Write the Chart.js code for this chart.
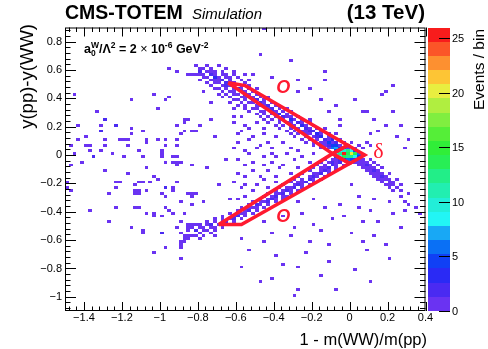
<!DOCTYPE html>
<html>
<head>
<meta charset="utf-8">
<script src="https://cdn.jsdelivr.net/npm/chart.js@4.4.0/dist/chart.umd.min.js"></script>
<style>
  html, body { margin: 0; padding: 0; background: #fff; }
  canvas { display: block; }
</style>
</head>
<body>
<canvas id="chart" width="488" height="349"></canvas>
<script>
// axis ticks
const xTicks = [-1.4, -1.2, -1, -0.8, -0.6, -0.4, -0.2, 0, 0.2, 0.4];
const yTicks = [-1, -0.8, -0.6, -0.4, -0.2, 0, 0.2, 0.4, 0.6, 0.8];
const zTicks = [0, 5, 10, 15, 20, 25];
const zMax = 26;
const binSize = 0.02;

// colour palette of the z axis (bottom -> top), 20 bands
const palette = ['#6a33f2', '#4a2af2', '#2a2af5', '#1040f5', '#0a70f5', '#18a8f5', '#22f5f5', '#22eed8',
  '#22eeb0', '#22ee88', '#28ee55', '#30ee38', '#55ee38', '#80ee40', '#b0ee40', '#e8ee40',
  '#fdc535', '#fd9030', '#fb5528', '#f81c1c'];

// histogram rows: [y, x, x, ...]; [x, n] when a bin has more than one event
const sparseRows = [
  [0.89, -0.45],
  [0.71, -0.47],
  [0.67, -0.31],
  [0.63, -0.81],
  [0.61, -0.95],
  [0.59, -0.91, -0.13],
  [0.57, -0.85, -0.83, -0.81, -0.51],
  [0.55, -0.41],
  [0.53, -0.13, -0.27],
  [0.49, 0.23],
  [0.47, -0.21],
  [0.45, -0.27, 0.19],
  [0.43, -1.45, -1.03, 0.17],
  [0.41, -0.95],
  [0.39, -1.15, -0.97, -0.15, 0.03],
  [0.35, -0.07],
  [0.33, -1.01, -0.61],
  [0.31, -1.33, -0.11, 0.07, 0.09, 0.23],
  [0.27, -0.61, -0.57],
  [0.25, [-1.29, 2], -0.87, -0.85, -0.73, -0.05, 0.13],
  [0.23, -0.87, -0.61, -0.49],
  [0.21, -1.43, -1.31, [-1.23, 2], -0.91, -0.79, -0.55, -0.05, 0.19, 0.27],
  [0.19, -1.15, -0.45, -0.53],
  [0.17, [-1.31, 2], -1.09, -0.87, -0.83, -0.81, -0.57, 0.15],
  [0.15, -1.15, -0.89, -0.59, -0.45, 0.11],
  [0.13, -1.39, -0.71, -0.51, -0.39, 0.25],
  [0.11, -1.43, -1.29, -1.21, -1.19, -1.17, -1.07, -1.01, -0.97, -0.91, -0.53, 0.31],
  [0.09, -1.07, -0.59, -0.43, -0.35],
  [0.07, -1.47, -1.39, -1.37, -1.29, -1.17, -0.97, -0.91, -0.47],
  [0.05, -0.61, -0.49, -0.41, -0.31, 0.29],
  [0.03, -1.37, -1.31, -1.11, -0.99, -0.55, -0.27],
  [0.01, -1.45, -1.25, -0.99, -0.53, -0.41, -0.33, -0.19],
  [-0.01, [-1.35, 2], -1.19, -1.09, -0.99, -0.93, -0.91, -0.45, -0.39, -0.25],
  [-0.03, -0.65, -0.59, -0.29],
  [-0.05, -1.41, -0.97, -0.93, -0.91, -0.89, -0.51, -0.41, -0.21],
  [-0.07, -1.47, -0.91, -0.83, -0.55, -0.45, -0.35],
  [-0.09, -1.07, -0.75, -0.37, -0.27],
  [-0.11, -1.29, -0.51, -0.43],
  [-0.13, -1.17, -0.59, -0.31],
  [-0.15, -1.03, -0.55, -0.47, -0.39],
  [-0.17, -1.01, -0.45],
  [-0.19, -1.49, -1.23, -1.21, -1.11, -1.09, -1.05, -0.91, -0.61, -0.39],
  [-0.21, -1.13, -0.69, -0.55, -0.49, 0.01],
  [-0.23, -1.49, -1.23, [-0.97, 2], -0.93, -0.57, -0.43],
  [-0.25, -1.47, -1.13, -1.11, -1.07, -0.93, -0.51],
  [-0.27, -1.27, -1.13, -1.11, -0.99, -0.85, -0.83, -0.81, 0.31],
  [-0.29, -0.97, -0.83, -0.55, 0.05],
  [-0.31, -0.63, -0.59, -0.19, 0.13],
  [-0.33, -0.89, -0.77, -0.27, 0.21, 0.29],
  [-0.35, -0.83, -0.05, 0.31],
  [-0.37, -1.23, -1.13, -1.11, -0.97, -0.13, 0.05, 0.35],
  [-0.39, -1.37, -0.95, 0.11, 0.29],
  [-0.41, -1.07, -1.03, -0.93, -0.87, -0.25, 0.23, 0.37],
  [-0.43, -1.03, -0.99, -0.35, -0.03],
  [-0.45, -0.09],
  [-0.47, -1.27, -0.89, -0.45, 0.07, 0.15],
  [-0.49, -0.85, -0.83, -0.81, -0.19],
  [-0.51, -1.15, -0.91, -0.85, -0.83, -0.29, 0.27],
  [-0.53, -1.09, -0.85, [-0.81, 2], -0.15],
  [-0.55, -1.09, [-0.99, 2], -0.89, -0.41, 0.01],
  [-0.57, -0.87, -0.85, -0.83, -0.81, -0.31, 0.13],
  [-0.59, -0.87, -0.85, -0.57],
  [-0.61, -0.89, -0.87, -0.45, -0.21, 0.07],
  [-0.63, -0.89, -0.11, 0.19],
  [-0.65, -0.97, -0.89],
  [-0.67, -0.53, 0.09],
  [-0.69, -1.03, -0.23],
  [-0.71, -0.39],
  [-0.73, -0.89, 0.21],
  [-0.75, -0.11],
  [-0.77, -0.35],
  [-0.79, -0.57, -0.27],
  [-0.81, 0.03],
  [-0.85, -0.15],
  [-0.87, -0.41],
  [-0.89, -0.47, 0.11],
  [-0.95, -0.27, -0.07],
  [-0.99, -0.29]
];

const upperBandRows = [
  [0.63, -0.75, -0.69],
  [0.61, -0.79, -0.77, -0.73, -0.65],
  [0.59, [-0.79, 2], -0.75, -0.73, -0.71, -0.67, -0.61],
  [0.57, -0.79, -0.77, [-0.73, 2], -0.71, -0.67, -0.65, -0.61, -0.55],
  [0.55, -0.77, -0.75, [-0.71, 3], -0.69, -0.65, -0.63, -0.59],
  [0.53, -0.79, -0.73, -0.71, -0.69, [-0.67, 2], -0.63, -0.57, -0.53],
  [0.51, -0.75, -0.71, -0.69, [-0.65, 2], -0.63, -0.61, -0.55],
  [0.49, -0.73, -0.67, [-0.65, 2], -0.63, [-0.61, 2], -0.57, -0.53],
  [0.47, -0.71, -0.69, -0.65, -0.61, [-0.59, 3], -0.57, -0.53, -0.49],
  [0.45, -0.77, -0.67, -0.63, -0.61, [-0.57, 2], -0.55, -0.51],
  [0.43, -0.69, -0.65, -0.61, -0.59, [-0.55, 3], -0.53, -0.49],
  [0.41, -0.67, -0.63, -0.57, -0.55, [-0.53, 2], -0.51, -0.47, -0.43],
  [0.39, -0.61, -0.59, -0.55, -0.51, [-0.49, 2], -0.45],
  [0.37, -0.73, -0.63, -0.57, -0.53, -0.51, [-0.47, 2], -0.45, -0.41],
  [0.35, -0.59, -0.55, -0.49, -0.47, -0.45, [-0.43, 2], -0.39],
  [0.33, -0.55, -0.51, -0.49, -0.43, [-0.41, 2], -0.37, -0.33],
  [0.31, -0.53, -0.47, -0.45, [-0.41, 2], -0.39, -0.35, -0.31],
  [0.29, -0.49, -0.45, -0.41, -0.39, [-0.37, 3], -0.33, -0.29],
  [0.27, -0.47, -0.43, -0.39, [-0.35, 2], -0.33, -0.31, -0.27],
  [0.25, -0.45, -0.41, -0.37, -0.35, [-0.31, 3], -0.29, -0.25, -0.21],
  [0.23, -0.43, -0.37, -0.33, -0.31, [-0.27, 2], -0.25, -0.21],
  [0.21, -0.39, -0.35, -0.31, -0.29, [-0.25, 3], -0.23, -0.19],
  [0.19, -0.37, -0.31, -0.27, [-0.23, 2], -0.21, -0.17, -0.13],
  [0.17, -0.33, -0.29, -0.25, -0.23, [-0.21, 2], [-0.19, 2], -0.15],
  [0.15, -0.31, -0.27, -0.23, -0.21, [-0.17, 3], -0.15, -0.11, -0.07],
  [0.13, -0.29, -0.23, -0.19, [-0.17, 2], [-0.15, 3], -0.11, -0.09],
  [0.11, -0.25, -0.21, -0.17, [-0.13, 2], -0.11, [-0.09, 3], -0.05],
  [0.09, -0.23, -0.19, -0.15, -0.13, [-0.11, 4], -0.09, [-0.07, 2], -0.03],
  [0.07, -0.19, -0.15, -0.13, [-0.11, 2], [-0.09, 5], [-0.07, 4], -0.05, -0.01],
  [0.05, -0.15, -0.11, [-0.09, 6], [-0.07, 7], [-0.05, 5], [-0.03, 4], -0.01, 0.03]
];

const lowerBandRows = [
  [-0.03, -0.13, -0.09, -0.07, [-0.05, 2]],
  [-0.05, -0.15, -0.11, [-0.09, 2], -0.07, [-0.05, 2], -0.01],
  [-0.07, -0.17, -0.13, [-0.09, 2], -0.07, -0.03],
  [-0.09, -0.19, -0.15, -0.13, [-0.11, 2], -0.07],
  [-0.11, -0.21, -0.15, [-0.13, 2], -0.11, -0.07],
  [-0.13, -0.25, -0.19, -0.17, [-0.15, 2], -0.11],
  [-0.15, -0.27, -0.21, [-0.19, 2], -0.17, -0.13],
  [-0.17, -0.29, -0.25, [-0.21, 2], -0.19, -0.15],
  [-0.19, -0.31, -0.27, -0.25, [-0.23, 2], -0.19],
  [-0.21, -0.35, -0.29, [-0.27, 2], -0.25, -0.21],
  [-0.23, -0.37, -0.33, -0.31, [-0.29, 2], -0.25],
  [-0.25, -0.39, -0.35, [-0.33, 2], -0.31, -0.27],
  [-0.27, -0.43, -0.39, -0.37, [-0.35, 2], -0.31],
  [-0.29, -0.45, -0.41, [-0.39, 2], -0.35, -0.33],
  [-0.31, -0.47, -0.43, [-0.41, 2], -0.39, -0.35],
  [-0.33, -0.51, -0.47, -0.45, [-0.43, 2], -0.39],
  [-0.35, -0.53, [-0.49, 2], -0.47, -0.43],
  [-0.37, -0.57, -0.53, -0.51, -0.49, -0.45],
  [-0.39, -0.59, -0.55, [-0.53, 2], -0.49],
  [-0.41, -0.63, -0.59, -0.57, -0.55, -0.51],
  [-0.43, -0.67, -0.61, [-0.59, 2], -0.55],
  [-0.45, -0.71, -0.67, -0.63, [-0.61, 2], -0.57],
  [-0.47, -0.75, -0.71, -0.67, [-0.65, 2], -0.61],
  [-0.49, -0.79, -0.75, [-0.73, 2], -0.69, -0.65],
  [-0.51, -0.79, -0.77, -0.73, -0.71, -0.67],
  [-0.53, -0.77, -0.75, -0.71],
  [-0.55, -0.79, -0.73],
  [-0.57, -0.77, -0.71],
  [-0.59, -0.79]
];

const tailRows = [
  [0.09, 0.01, 0.09],
  [0.07, 0.05, 0.11],
  [0.05, 0.07],
  [-0.03, 0.05, 0.07, 0.11],
  [-0.05, 0.03, 0.05, 0.07, 0.09, 0.13],
  [-0.07, 0.05, 0.07, [0.09, 2], 0.11, 0.15],
  [-0.09, 0.07, 0.09, 0.11, 0.13, 0.17],
  [-0.11, 0.09, 0.11, [0.13, 2], 0.15],
  [-0.13, 0.11, 0.13, 0.15, 0.17, 0.21],
  [-0.15, 0.13, 0.15, [0.17, 2], 0.19],
  [-0.17, 0.15, 0.17, 0.19, 0.21, 0.25],
  [-0.19, 0.17, 0.21, 0.23],
  [-0.21, 0.19, 0.21, 0.23, 0.27],
  [-0.23, 0.21, 0.25],
  [-0.25, 0.23, 0.27],
  [-0.29, 0.27]
];

// central peak: [x, y, events]
const coreCells = [
  [-0.07, 0.03, 5], [-0.05, 0.03, 8], [-0.03, 0.03, 10], [-0.01, 0.03, 12], [0.01, 0.03, 9], [0.03, 0.03, 5],
  [-0.07, 0.01, 8], [-0.05, 0.01, 12], [-0.03, 0.01, 25], [-0.01, 0.01, 14], [0.01, 0.01, 20], [0.03, 0.01, 14], [0.05, 0.01, 6],
  [-0.07, -0.01, 4], [-0.05, -0.01, 9], [-0.03, -0.01, 13], [-0.01, -0.01, 12], [0.01, -0.01, 12], [0.03, -0.01, 9], [0.05, -0.01, 5],
  [-0.03, -0.03, 4], [-0.01, -0.03, 6], [0.01, -0.03, 5], [0.03, -0.03, 3]
];

// hand-drawn signal regions
const upperRegion = [[-0.64, 0.51], [-0.55, 0.49], [-0.01, 0.07], [-0.09, 0.01], [-0.64, 0.51]];
const lowerRegion = [[-0.69, -0.49], [-0.57, -0.49], [0.0, -0.06], [-0.09, 0.01], [-0.69, -0.49]];
const deltaRegion = [[-0.09, 0.01], [-0.01, 0.07], [0.08, 0.0], [0.0, -0.06], [-0.09, 0.01]];
const regionLabels = [['O', -0.35, 0.47], ['O', -0.35, -0.44], ['\u03b4', 0.152, 0.023]];

function rowsToCells(rows) {
  const out = [];
  rows.forEach(r => {
    for (let i = 1; i < r.length; i++) {
      const e = r[i];
      if (Array.isArray(e)) out.push({ x: e[0], y: r[0], n: e[1] });
      else out.push({ x: e, y: r[0], n: 1 });
    }
  });
  return out;
}

const cells = [].concat(rowsToCells(sparseRows), rowsToCells(upperBandRows),
  rowsToCells(lowerBandRows), rowsToCells(tailRows),
  coreCells.map(c => ({ x: c[0], y: c[1], n: c[2] })));

const RED = '#ff1a30';
const FONT = "'Liberation Sans', Arial, Helvetica, sans-serif";

function fmt(v) {
  const s = String(Math.round(v * 10) / 10);
  return s.replace('-', '\u2212');
}

function colorFor(n) {
  const idx = Math.min(palette.length - 1, Math.floor(n / (zMax / palette.length)));
  return palette[idx];
}

const histPlugin = {
  id: 'hist',
  beforeDatasetsDraw(chart) {
    const { ctx, scales: { x, y } } = chart;
    const h = binSize / 2;
    ctx.save();
    chart.data.datasets[0].data.forEach(c => {
      const l = Math.round(x.getPixelForValue(c.x - h));
      const r = Math.round(x.getPixelForValue(c.x + h));
      const t = Math.round(y.getPixelForValue(c.y + h));
      const b = Math.round(y.getPixelForValue(c.y - h));
      ctx.fillStyle = colorFor(c.n);
      ctx.fillRect(l, t, r - l, b - t);
    });
    ctx.restore();
  },
  afterDatasetsDraw(chart) {
    const { ctx, chartArea: a, scales: { x, y, z } } = chart;
    ctx.save();
    // frame
    ctx.strokeStyle = '#000';
    ctx.lineWidth = 1;
    ctx.strokeRect(a.left + 0.5, a.top + 0.5, a.right - a.left - 1, a.bottom - a.top - 1);
    ctx.beginPath();
    // x ticks (bottom + top)
    for (let v = -1.48; v < 0.41; v += 0.04) {
      const px = Math.round(x.getPixelForValue(v)) + 0.5;
      const major = xTicks.some(t => Math.abs(t - v) < 1e-6);
      const len = major ? 9 : 4.5;
      ctx.moveTo(px, a.bottom); ctx.lineTo(px, a.bottom - len);
      ctx.moveTo(px, a.top); ctx.lineTo(px, a.top + len);
    }
    // y ticks (left + right)
    for (let v = -1.08; v < 0.89; v += 0.04) {
      const py = Math.round(y.getPixelForValue(v)) + 0.5;
      const major = yTicks.some(t => Math.abs(t - v) < 1e-6);
      const len = major ? 11 : 5.5;
      ctx.moveTo(a.left, py); ctx.lineTo(a.left + len, py);
      ctx.moveTo(a.right, py); ctx.lineTo(a.right - len, py);
    }
    ctx.stroke();

    // colour bar
    const bl = 428, br = 450;
    const step = zMax / palette.length;
    palette.forEach((col, i) => {
      const t = Math.round(z.getPixelForValue((i + 1) * step));
      const b = Math.round(z.getPixelForValue(i * step));
      ctx.fillStyle = col;
      ctx.fillRect(bl, t, br - bl, b - t);
    });
    ctx.beginPath();
    ctx.fillStyle = '#000';
    ctx.font = '11px ' + FONT;
    ctx.textAlign = 'left';
    ctx.textBaseline = 'middle';
    zTicks.forEach(v => {
      const py = Math.round(z.getPixelForValue(v)) + 0.5;
      ctx.moveTo(br, py); ctx.lineTo(br - 11, py);
      ctx.fillText(String(v), br + 2, py);
    });
    ctx.stroke();
    ctx.restore();
  },
  afterDraw(chart) {
    const { ctx, scales: { x, y } } = chart;
    ctx.save();
    ctx.fillStyle = '#000';
    ctx.textBaseline = 'alphabetic';
    // header
    ctx.font = 'bold 19.5px ' + FONT;
    ctx.textAlign = 'left';
    ctx.fillText('CMS-TOTEM', 65, 19);
    ctx.font = 'italic 15px ' + FONT;
    ctx.fillText('Simulation', 192, 19);
    ctx.font = 'bold 20.5px ' + FONT;
    ctx.textAlign = 'right';
    ctx.fillText('(13 TeV)', 425, 19);

    // axis titles
    ctx.font = '16.5px ' + FONT;
    ctx.textAlign = 'right';
    ctx.fillText('1 - m(WW)/m(pp)', 427, 345);
    ctx.save();
    ctx.font = '18.5px ' + FONT;
    ctx.translate(33, 24);
    ctx.rotate(-Math.PI / 2);
    ctx.fillText('y(pp)-y(WW)', 0, 0);
    ctx.restore();
    ctx.save();
    ctx.font = '15.5px ' + FONT;
    ctx.translate(484, 29);
    ctx.rotate(-Math.PI / 2);
    ctx.fillText('Events / bin', 0, 0);
    ctx.restore();

    // coupling label
    let cx = 84;
    const base = 53;
    const put = (txt, font, dy) => {
      ctx.font = font;
      ctx.textAlign = 'left';
      ctx.fillText(txt, cx, base + dy);
      return ctx.measureText(txt).width;
    };
    const big = 'bold 12.5px ' + FONT, small = 'bold 8.5px ' + FONT;
    cx += put('a', big, 0);
    const w1 = put('W', small, -5);
    put('0', small, 3);
    cx += w1;
    cx += put('/\u039b', big, 0);
    cx += put('2', small, -5);
    cx += put(' = 2 ', big, 0);
    cx += put('\u00d7', '12.5px ' + FONT, 0);
    cx += put(' 10', big, 0);
    cx += put('-6', small, -5);
    cx += put(' GeV', big, 0);
    put('-2', small, -5);

    // region labels
    ctx.fillStyle = RED;
    ctx.textAlign = 'center';
    ctx.textBaseline = 'middle';
    regionLabels.forEach(([txt, vx, vy]) => {
      ctx.font = txt === 'O' ? 'italic bold 18px ' + FONT : "22px 'Liberation Serif', serif";
      ctx.fillText(txt, x.getPixelForValue(vx), y.getPixelForValue(vy));
    });
    ctx.restore();
  }
};

const regionStyle = { showLine: true, borderColor: RED, borderWidth: 3.5, pointRadius: 0, fill: false, tension: 0 };

new Chart(document.getElementById('chart'), {
  type: 'scatter',
  data: {
    datasets: [
      { label: 'events', data: cells, pointRadius: 0 },
      Object.assign({ label: 'O upper', data: upperRegion.map(p => ({ x: p[0], y: p[1] })) }, regionStyle),
      Object.assign({ label: 'O lower', data: lowerRegion.map(p => ({ x: p[0], y: p[1] })) }, regionStyle),
      Object.assign({ label: 'delta', data: deltaRegion.map(p => ({ x: p[0], y: p[1] })) }, regionStyle)
    ]
  },
  options: {
    responsive: false,
    animation: false,
    devicePixelRatio: 1,
    layout: { padding: { left: 0, top: 27.5, right: 62.5, bottom: 0 } },
    plugins: { legend: { display: false }, tooltip: { enabled: false } },
    scales: {
      x: {
        type: 'linear', min: -1.5, max: 0.4,
        grid: { display: false, drawTicks: false }, border: { display: false },
        afterBuildTicks: s => { s.ticks = xTicks.map(v => ({ value: v })); },
        afterFit: s => { s.height = 38; },
        ticks: { font: { family: FONT, size: 11 }, color: '#000', padding: 0, maxRotation: 0, autoSkip: false, callback: fmt }
      },
      y: {
        type: 'linear', min: -1.1, max: 0.9,
        grid: { display: false, drawTicks: false }, border: { display: false },
        afterBuildTicks: s => { s.ticks = yTicks.map(v => ({ value: v })); },
        afterFit: s => { s.width = 65; },
        ticks: { font: { family: FONT, size: 11 }, color: '#000', padding: 3, autoSkip: false, callback: fmt }
      },
      z: { type: 'linear', position: 'right', display: false, min: 0, max: zMax }
    }
  },
  plugins: [histPlugin]
});
</script>
</body>
</html>
